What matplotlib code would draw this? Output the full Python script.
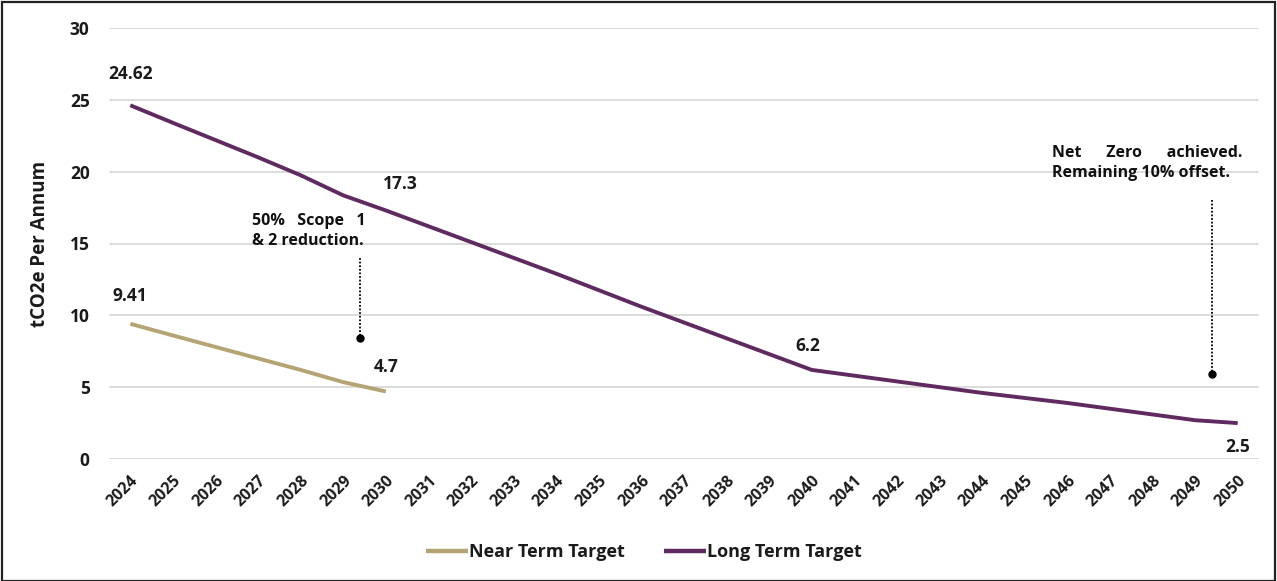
import matplotlib
matplotlib.use("Agg")
import matplotlib.pyplot as plt
from matplotlib.patches import Rectangle

years = list(range(2024, 2051))
near_years = list(range(2024, 2031))
near_term = [9.41, 8.6, 7.8, 7.0, 6.2, 5.35, 4.7]
long_term = [24.62, 23.4, 22.2, 21.0, 19.75, 18.35, 17.3,
             16.2, 15.1, 14.0, 12.9, 11.75, 10.6, 9.5, 8.4, 7.3, 6.2,
             5.8, 5.4, 5.0, 4.6, 4.25, 3.9, 3.5, 3.1, 2.7, 2.5]
series_names = ["Near Term Target", "Long Term Target"]
colors = ["#b5a473", "#5f2a60"]
y_ticks = [0, 5, 10, 15, 20, 25, 30]
y_label = "tCO2e Per Annum"

FAM = ['Open Sans', 'DejaVu Sans']
plt.rcParams['font.family'] = FAM
plt.rcParams['font.weight'] = 'bold'

fig = plt.figure(figsize=(12.77, 5.81), dpi=100)
ax = fig.add_axes([109/1277, (581-459)/581, (1259-109)/1277, (459-28)/581])

ax.plot(near_years, near_term, color=colors[0], lw=2.8, label=series_names[0], solid_capstyle='butt')
ax.plot(years, long_term, color=colors[1], lw=2.8, label=series_names[1], solid_capstyle='butt')

ax.set_xlim(2023.5, 2050.5)
ax.set_ylim(0, 30)
ax.set_yticks(y_ticks)
ax.set_xticks(years)
ax.set_xticklabels([str(y) for y in years], rotation=45, ha='right',
                   rotation_mode='anchor', fontsize=11.5, fontweight='bold', color='#1a1a1a')
ax.set_yticklabels([str(v) for v in y_ticks], fontsize=12.5, fontweight='bold', color='#1a1a1a')
ax.tick_params(axis='y', length=0, pad=14)
ax.tick_params(axis='x', length=0, pad=10)
ax.grid(axis='y', color='#d9d9d9', lw=1.3)
ax.set_axisbelow(True)
for s in ax.spines.values():
    s.set_visible(False)
ax.set_ylabel(y_label, fontsize=13.5, fontweight='bold', color='#1a1a1a', labelpad=14)

lab = dict(fontsize=12.5, fontweight='bold', color='#1a1a1a', ha='center', va='center')
ax.text(2024, 26.8, "24.62", **lab)
ax.text(2030.35, 19.15, "17.3", **lab)
ax.text(2024, 11.35, "9.41", **lab)
ax.text(2030.0, 6.4, "4.7", **lab)
ax.text(2039.9, 7.85, "6.2", **lab)
ax.text(2050.0, 0.85, "2.5", **lab)

ann = dict(fontsize=11.5, fontweight='bold', color='#111111', ha='left', va='top', linespacing=1.3)
ax.text(2026.85, 17.1, "50%   Scope   1\n& 2 reduction.", **ann)
ax.text(2045.65, 21.85, "Net      Zero      achieved.\nRemaining 10% offset.", **ann)

ax.plot([2029.4, 2029.4], [14.0, 8.4], color='black', lw=1.3, ls=(0, (1, 1)))
ax.plot([2029.4], [8.4], 'o', color='black', ms=5)
ax.plot([2049.4, 2049.4], [18.0, 5.9], color='black', lw=1.3, ls=(0, (1, 1)))
ax.plot([2049.4], [5.9], 'o', color='black', ms=5)

leg = fig.legend(loc='center', bbox_to_anchor=(644/1277, 1-552/581), ncol=2, frameon=False,
                 handlelength=2.3, handletextpad=0.05, columnspacing=2.2,
                 prop={'family': FAM, 'weight': 'bold', 'size': 13})
for t in leg.get_texts():
    t.set_color('#1a1a1a')
for h in leg.legend_handles:
    h.set_linewidth(3.2)

fig.add_artist(Rectangle((0.0015, 0.0), 0.997, 0.9965, transform=fig.transFigure,
                         fill=False, edgecolor='#222222', lw=1.6))

fig.savefig("out.png", dpi=100)
